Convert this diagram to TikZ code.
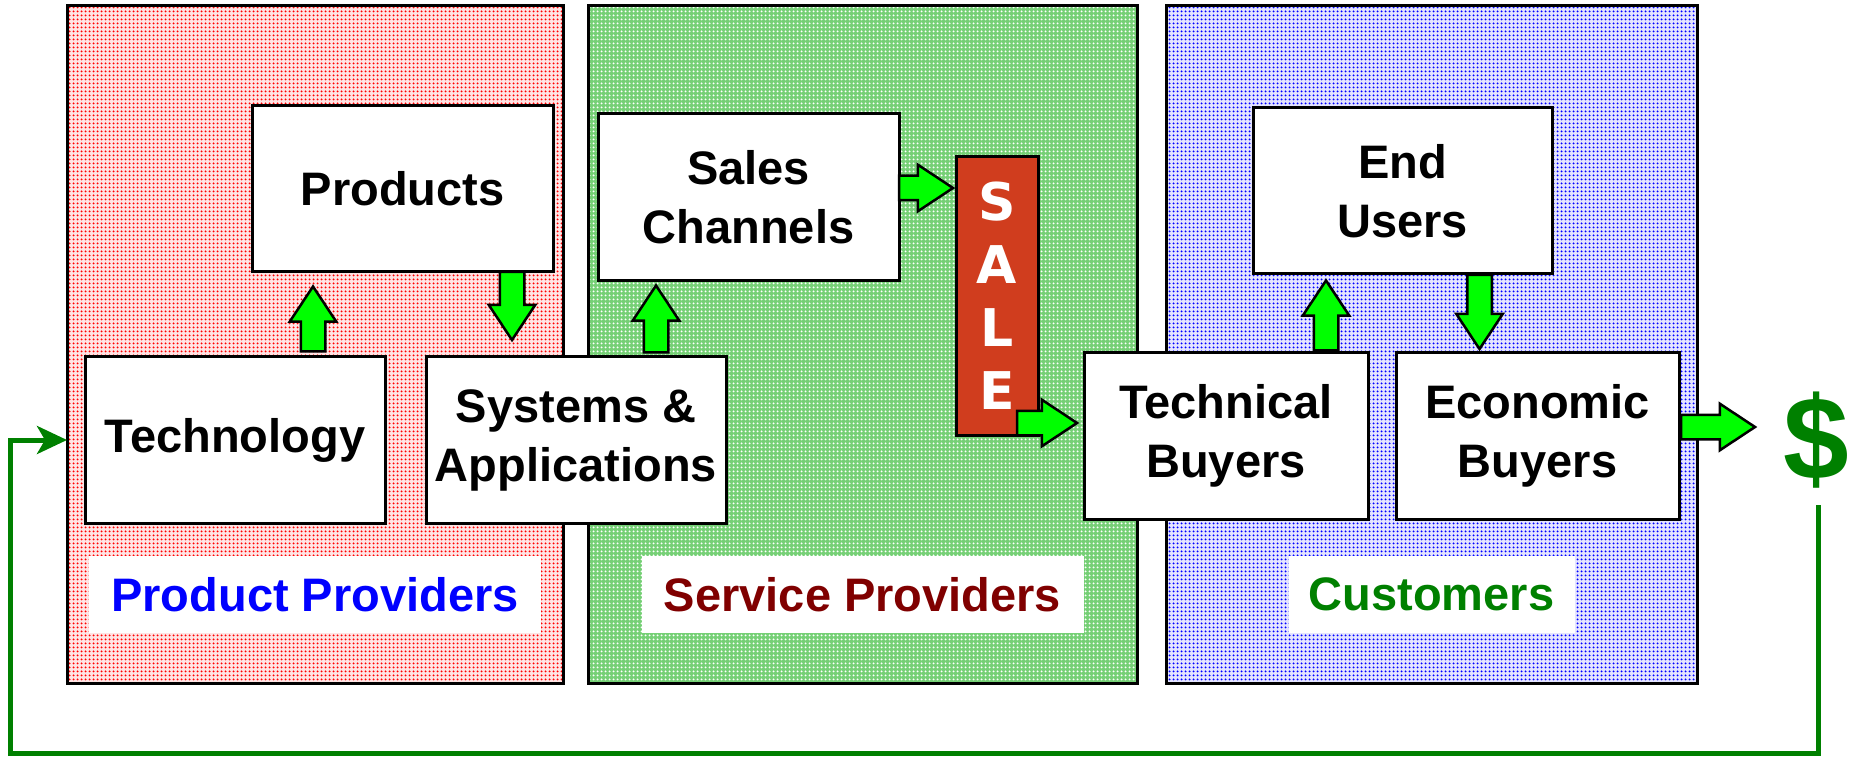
\documentclass[tikz,border=0pt]{standalone}
\usepackage{fontspec}
\setmainfont{Liberation Sans}
\newfontfamily\salefont{DejaVu Sans}
\usepackage{xcolor}
\usepackage{tikz}
\usetikzlibrary{positioning,calc,shapes.arrows,arrows.meta,patterns.meta}

\definecolor{flowgreen}{RGB}{0,255,0}
\definecolor{cashgreen}{RGB}{0,128,0}
\definecolor{salered}{RGB}{208,61,30}
\definecolor{provblue}{RGB}{0,0,255}
\definecolor{servmaroon}{RGB}{128,0,0}
\definecolor{redbase}{RGB}{255,228,228}
\definecolor{greenbase}{RGB}{118,208,118}
\definecolor{bluebase}{RGB}{228,228,255}

\tikzdeclarepattern{
	name=paneldots,
	type=uncolored,
	bottom left={(0pt,0pt)},
	top right={(4pt,4pt)},
	tile size={(4pt,4pt)},
	code={\fill (2pt,2pt) circle (1.25pt);}
}

\tikzset{
	panel/.style={draw,line width=3pt,minimum height=677pt,inner sep=0pt,outer sep=0pt},
	box/.style={draw,line width=3pt,fill=white,align=center,inner sep=0pt,outer sep=0pt,minimum height=167pt,font=\bfseries\fontsize{47}{59}\selectfont},
	tag/.style={fill=white,inner sep=0pt,outer sep=0pt,minimum height=77pt,font=\bfseries\fontsize{47}{56}\selectfont},
	salebox/.style={draw,line width=3pt,fill=salered,text=white,align=center,inner sep=0pt,outer sep=0pt,minimum width=82pt,minimum height=278pt,font=\salefont\bfseries\fontsize{52}{63}\selectfont},
	flow/.style={single arrow,draw,line width=2.5pt,fill=flowgreen,inner sep=11pt,outer sep=0pt,minimum width=44pt,single arrow head extend=11pt,single arrow tip angle=67,anchor=tail},
	payback/.style={draw=cashgreen,line width=5pt,-{Stealth[length=30pt,width=28pt,inset=8pt]}},
}

\begin{document}
\begin{tikzpicture}[x=1pt,y=1pt]
		\useasboundingbox (0,0) rectangle (1854,756);
		% the three groups
		\node[panel,preaction={fill=redbase},pattern=paneldots,pattern color=red,minimum width=496pt] (redpanel) at (315,411.5) {};
		\node[panel,preaction={fill=greenbase},pattern=paneldots,pattern color=white,minimum width=549pt,right=25pt of redpanel] (greenpanel) {};
		\node[panel,preaction={fill=bluebase},pattern=paneldots,pattern color=blue,minimum width=531pt,right=29pt of greenpanel] (bluepanel) {};
		\node[tag,text=provblue,minimum width=452pt,above=50pt of redpanel.south] (prodtag) {Product Providers};
		\node[tag,text=servmaroon,minimum width=442pt,above=50pt of greenpanel.south] (servtag) {Service Providers};
		\node[tag,text=cashgreen,minimum width=286pt,above=50pt of bluepanel.south] (custtag) {Customers};
		% boxes
		\node[box,minimum width=300pt] (tech) at (235,316) {Technology};
		\node[box,minimum width=300pt,right=41pt of tech] (systems) {Systems \&\\Applications};
		\node[box,minimum width=301pt,minimum height=166pt] (products) at (402.5,567) {Products};
		\node[box,minimum width=301pt] (sales) at (748.5,558.5) {Sales\\Channels};
		\node[salebox] (sale) at (997,460) {S\\A\\L\\E};
		\node[box,minimum width=284pt] (techbuy) at (1226,320) {Technical\\Buyers};
		\node[box,minimum width=283pt,right=28pt of techbuy] (econbuy) {Economic\\Buyers};
		\node[box,minimum width=299pt,minimum height=166pt] (endusers) at (1402.5,565) {End\\Users};
		\node[text=cashgreen,inner sep=0pt,font=\bfseries\fontsize{118}{120}\selectfont] (dollar) at (1816,316) {\$};
		% flow arrows
		\node[flow,rotate=90,minimum height=65pt] (a1) at ($(tech.north)+(78,5)$) {};
		\node[flow,rotate=-90,minimum height=68pt] (a2) at ($(products.south)+(109.5,0)$) {};
		\node[flow,rotate=90,minimum height=67pt] (a3) at ($(systems.north)+(80,4)$) {};
		\node[flow,minimum height=54pt] (a4) at ($(sales.east)+(0,9.5)$) {};
		\node[flow,minimum height=60pt] (a5) at ($(sale.south east)+(-21,12)$) {};
		\node[flow,rotate=90,minimum height=70pt] (a6) at ($(techbuy.north)+(100,2)$) {};
		\node[flow,rotate=-90,minimum height=74pt] (a7) at ($(endusers.south)+(77,-1)$) {};
		\node[flow,minimum height=74pt] (a8) at ($(econbuy.east)+(2,9)$) {};
		% money back to the start
		\coordinate (cashout) at (1818,251);
		\draw[payback] (cashout) |- (10,3) |- (redpanel.west |- tech.west);
	\end{tikzpicture}
\end{document}
